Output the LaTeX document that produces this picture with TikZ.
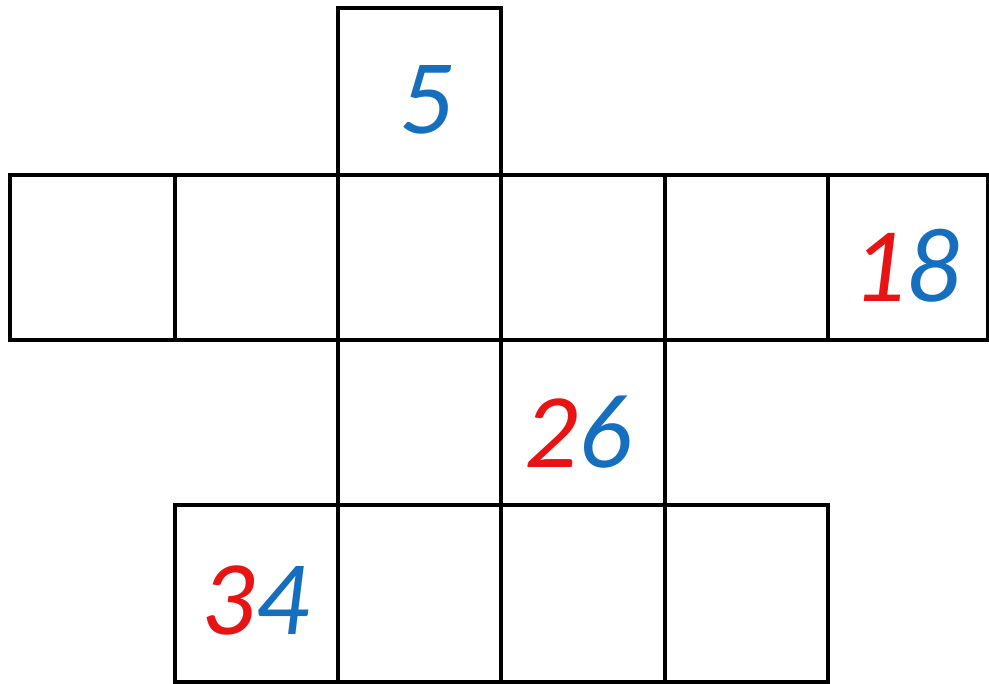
\documentclass[tikz,border=0pt]{standalone}
\usepackage{fontspec}
\newfontfamily\digitfont{Carlito}
\definecolor{numblue}{RGB}{22,110,190}
\definecolor{numred}{RGB}{232,20,20}
\begin{document}
\begin{tikzpicture}[x=1pt,y=-1pt,
  cell/.style={draw=black,line width=3.6pt},
  num/.style={font=\digitfont\itshape\fontsize{106}{106}\selectfont,inner sep=0pt,anchor=center}]
\useasboundingbox (0,0) rectangle (989,684);
\fill[white] (0,0) rectangle (989,684);
% row 0
\draw[cell] (338,8) rectangle (501,175);
% row 1
\foreach \a/\b in {10/175,175/338,338/501,501/665,665/828,828/988}
  \draw[cell] (\a,175) rectangle (\b,340);
% row 2
\foreach \a/\b in {338/501,501/665}
  \draw[cell] (\a,340) rectangle (\b,505);
% row 3
\foreach \a/\b in {175/338,338/501,501/665,665/828}
  \draw[cell] (\a,505) rectangle (\b,682);
% numbers
\node[num,text=numblue] (n5) at (426,100) {5};
\node[num] (n18) at (906,266) {\textcolor{numred}{1}\textcolor{numblue}{8}};
\node[num] (n26) at (578,432) {\textcolor{numred}{2}\textcolor{numblue}{6}};
\node[num] (n34) at (255,600) {\textcolor{numred}{3}\textcolor{numblue}{4}};
\end{tikzpicture}
\end{document}
